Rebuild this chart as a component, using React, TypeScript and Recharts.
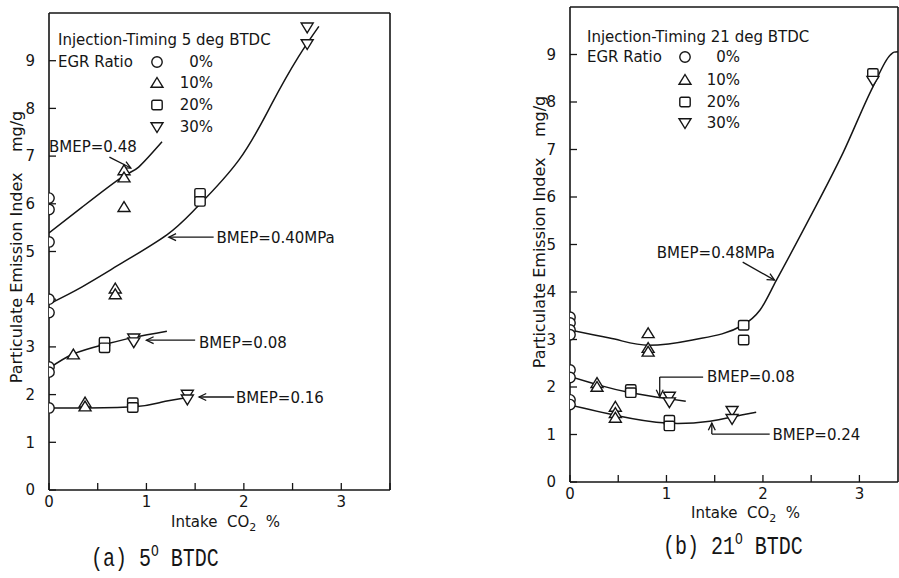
import React from 'react';
import {
  ComposedChart,
  Line,
  Scatter,
  XAxis,
  YAxis,
  ReferenceLine,
  ReferenceDot,
} from 'recharts';

type Pt = { x: number; y: number };

const INK = '#151515';
const SANS = '"DejaVu Sans", sans-serif';

// ---- (a) injection timing 5 deg BTDC : measured points per EGR ratio
const aEgr0: Pt[] = [
  { x: 0, y: 6.12 }, { x: 0, y: 5.88 }, { x: 0, y: 5.2 }, { x: 0, y: 4.0 },
  { x: 0, y: 3.72 }, { x: 0, y: 2.58 }, { x: 0, y: 2.47 }, { x: 0, y: 1.72 },
];
const aEgr10: Pt[] = [
  { x: 0.77, y: 6.7 }, { x: 0.77, y: 6.55 }, { x: 0.77, y: 5.93 }, { x: 0.68, y: 4.22 },
  { x: 0.68, y: 4.1 }, { x: 0.25, y: 2.84 }, { x: 0.37, y: 1.83 }, { x: 0.37, y: 1.75 },
];
const aEgr20: Pt[] = [
  { x: 1.55, y: 6.22 }, { x: 1.55, y: 6.05 }, { x: 0.57, y: 3.1 }, { x: 0.57, y: 2.98 },
  { x: 0.86, y: 1.83 }, { x: 0.86, y: 1.73 },
];
const aEgr30: Pt[] = [
  { x: 2.65, y: 9.7 }, { x: 2.65, y: 9.35 }, { x: 0.87, y: 3.18 }, { x: 0.87, y: 3.1 },
  { x: 1.42, y: 2.0 }, { x: 1.42, y: 1.9 },
];

// fitted curves per BMEP
const aBmep048: Pt[] = [
  { x: 0, y: 5.39 }, { x: 0.34, y: 5.93 }, { x: 0.75, y: 6.56 }, { x: 0.92, y: 6.77 }, { x: 1.16, y: 7.3 },
];
const aBmep040: Pt[] = [
  { x: 0, y: 3.9 }, { x: 0.34, y: 4.26 }, { x: 0.75, y: 4.76 }, { x: 1.21, y: 5.35 },
  { x: 1.51, y: 5.91 }, { x: 1.95, y: 6.92 }, { x: 2.29, y: 8.11 },
  { x: 2.56, y: 9.08 }, { x: 2.77, y: 9.72 },
];
const aBmep008: Pt[] = [
  { x: 0, y: 2.55 }, { x: 0.25, y: 2.85 }, { x: 0.57, y: 3.05 }, { x: 0.87, y: 3.2 }, { x: 1.21, y: 3.33 },
];
const aBmep016: Pt[] = [
  { x: 0, y: 1.72 }, { x: 0.4, y: 1.72 }, { x: 0.9, y: 1.75 }, { x: 1.15, y: 1.84 }, { x: 1.42, y: 1.94 },
];

// ---- (b) injection timing 21 deg BTDC
const bEgr0: Pt[] = [
  { x: 0, y: 3.47 }, { x: 0, y: 3.35 }, { x: 0, y: 3.2 }, { x: 0, y: 3.1 },
  { x: 0, y: 2.36 }, { x: 0, y: 2.2 }, { x: 0, y: 1.73 }, { x: 0, y: 1.63 },
];
const bEgr10: Pt[] = [
  { x: 0.81, y: 3.13 }, { x: 0.81, y: 2.82 }, { x: 0.81, y: 2.74 }, { x: 0.28, y: 2.08 },
  { x: 0.28, y: 2.0 }, { x: 0.47, y: 1.58 }, { x: 0.47, y: 1.45 }, { x: 0.47, y: 1.35 },
];
const bEgr20: Pt[] = [
  { x: 1.8, y: 3.3 }, { x: 1.8, y: 2.99 }, { x: 3.14, y: 8.6 }, { x: 0.63, y: 1.95 },
  { x: 0.63, y: 1.88 }, { x: 1.03, y: 1.3 }, { x: 1.03, y: 1.18 },
];
const bEgr30: Pt[] = [
  { x: 3.14, y: 8.45 }, { x: 1.03, y: 1.8 }, { x: 1.03, y: 1.68 }, { x: 1.68, y: 1.5 }, { x: 1.68, y: 1.33 },
];

const bBmep048: Pt[] = [
  { x: 0, y: 3.2 }, { x: 0.41, y: 3.03 }, { x: 0.81, y: 2.88 }, { x: 1.27, y: 2.99 },
  { x: 1.79, y: 3.3 }, { x: 1.97, y: 3.62 }, { x: 2.14, y: 4.25 }, { x: 2.49, y: 5.58 },
  { x: 2.83, y: 6.93 }, { x: 3.14, y: 8.32 }, { x: 3.32, y: 8.99 }, { x: 3.36, y: 9.05 }, { x: 3.4, y: 9.06 },
];
const bBmep008: Pt[] = [
  { x: 0, y: 2.22 }, { x: 0.28, y: 2.05 }, { x: 0.63, y: 1.88 }, { x: 1.03, y: 1.75 }, { x: 1.2, y: 1.7 },
];
const bBmep024: Pt[] = [
  { x: 0, y: 1.62 }, { x: 0.48, y: 1.4 }, { x: 1.0, y: 1.24 }, { x: 1.45, y: 1.28 },
  { x: 1.68, y: 1.37 }, { x: 1.93, y: 1.47 },
];

const yTicks = [0, 1, 2, 3, 4, 5, 6, 7, 8, 9];
const frameTicks = [1, 2, 3, 4, 5, 6, 7, 8, 9];
const aXTicks = [0, 0.5, 1, 1.5, 2, 2.5, 3, 3.5];
const bXTicks = [0, 0.5, 1, 1.5, 2, 2.5, 3];

type Note = { text: string; x: number; y: number };
type Lead = { from: Pt; to: Pt; head: boolean };

const aNotes: Note[] = [
  { text: 'BMEP=0.48', x: 0, y: 7.2 },
  { text: 'BMEP=0.40MPa', x: 1.72, y: 5.3 },
  { text: 'BMEP=0.08', x: 1.54, y: 3.08 },
  { text: 'BMEP=0.16', x: 1.92, y: 1.93 },
];
const aLeads: Lead[] = [
  { from: { x: 0.62, y: 6.98 }, to: { x: 0.84, y: 6.75 }, head: true },
  { from: { x: 1.69, y: 5.3 }, to: { x: 1.23, y: 5.3 }, head: true },
  { from: { x: 1.5, y: 3.14 }, to: { x: 1.0, y: 3.14 }, head: true },
  { from: { x: 1.9, y: 1.95 }, to: { x: 1.54, y: 1.95 }, head: true },
];
const bNotes: Note[] = [
  { text: 'BMEP=0.48MPa', x: 0.9, y: 4.82 },
  { text: 'BMEP=0.08', x: 1.42, y: 2.21 },
  { text: 'BMEP=0.24', x: 2.1, y: 0.99 },
];
const bLeads: Lead[] = [
  { from: { x: 1.79, y: 4.63 }, to: { x: 2.12, y: 4.25 }, head: true },
  { from: { x: 1.38, y: 2.21 }, to: { x: 0.93, y: 2.21 }, head: false },
  { from: { x: 0.93, y: 2.21 }, to: { x: 0.93, y: 1.79 }, head: true },
  { from: { x: 2.07, y: 1.01 }, to: { x: 1.47, y: 1.01 }, head: false },
  { from: { x: 1.47, y: 1.01 }, to: { x: 1.47, y: 1.24 }, head: true },
];

const Mark = ({ kind, cx, cy }: { kind: string; cx: number; cy: number }) => {
  const s = { fill: '#fff', stroke: INK, strokeWidth: 1.4 };
  if (kind === 'circle') return <circle cx={cx} cy={cy} r={5.2} {...s} />;
  if (kind === 'square') return <rect x={cx - 5.2} y={cy - 4.7} width={10.4} height={9.4} rx={1.5} {...s} />;
  if (kind === 'up')
    return <polygon points={`${cx},${cy - 5.5} ${cx + 6},${cy + 4.3} ${cx - 6},${cy + 4.3}`} {...s} />;
  return <polygon points={`${cx - 6},${cy - 4.3} ${cx + 6},${cy - 4.3} ${cx},${cy + 5.5}`} {...s} />;
};

const shapeOf = (kind: string) => (p: any) => <Mark kind={kind} cx={p.cx} cy={p.cy} />;

const leadShape = (head: boolean) => (p: any) => {
  const { x1, y1, x2, y2 } = p;
  const a = Math.atan2(y2 - y1, x2 - x1);
  const L = 8;
  const w = 0.45;
  const h1 = `${x2 - L * Math.cos(a - w)},${y2 - L * Math.sin(a - w)}`;
  const h2 = `${x2 - L * Math.cos(a + w)},${y2 - L * Math.sin(a + w)}`;
  return (
    <g>
      <line x1={x1} y1={y1} x2={x2} y2={y2} stroke={INK} strokeWidth={1.3} />
      {head && <polyline points={`${h1} ${x2},${y2} ${h2}`} fill="none" stroke={INK} strokeWidth={1.3} />}
    </g>
  );
};

const tickStyle = { fill: INK, fontSize: 15, fontFamily: SANS };
const axisStroke = { stroke: INK, strokeWidth: 1.6 };

type Curve = { pts: Pt[]; kind: 'natural' | 'monotone' };

type PanelProps = {
  left: number;
  width: number;
  margin: { top: number; right: number; bottom: number; left: number };
  xMax: number;
  xTicks: number[];
  topTicks: number[];
  curves: Curve[];
  egr: Pt[][];
  notes: Note[];
  leads: Lead[];
};

const kinds = ['circle', 'up', 'square', 'down'];

const Panel = ({ left, width, margin, xMax, xTicks, topTicks, curves, egr, notes, leads }: PanelProps) => (
  <div style={{ position: 'absolute', left, top: 0 }}>
    <ComposedChart width={width} height={578} margin={margin}>
      <XAxis
        type="number"
        dataKey="x"
        domain={[0, xMax]}
        allowDataOverflow
        ticks={xTicks}
        interval={0}
        tickFormatter={(v: number) => (Number.isInteger(v) ? String(v) : '')}
        tickSize={-7}
        tickMargin={13}
        height={30}
        axisLine={axisStroke}
        tickLine={{ stroke: INK, strokeWidth: 1.3 }}
        tick={tickStyle}
      />
      <XAxis
        xAxisId="t"
        orientation="top"
        type="number"
        dataKey="x"
        domain={[0, xMax]}
        allowDataOverflow
        ticks={topTicks}
        interval={0}
        tick={false}
        tickSize={-7}
        height={1}
        axisLine={axisStroke}
        tickLine={{ stroke: INK, strokeWidth: 1.3 }}
      />
      <YAxis
        type="number"
        domain={[0, 10]}
        allowDataOverflow
        ticks={yTicks}
        interval={0}
        tickSize={-7}
        tickMargin={21}
        width={30}
        axisLine={axisStroke}
        tickLine={{ stroke: INK, strokeWidth: 1.3 }}
        tick={tickStyle}
      />
      <YAxis
        yAxisId="r"
        orientation="right"
        type="number"
        domain={[0, 10]}
        allowDataOverflow
        ticks={frameTicks}
        interval={0}
        tick={false}
        tickSize={-7}
        width={1}
        axisLine={axisStroke}
        tickLine={{ stroke: INK, strokeWidth: 1.3 }}
      />
      {curves.map((c, i) => (
        <Line
          key={'c' + i}
          data={c.pts}
          dataKey="y"
          type={c.kind}
          stroke={INK}
          strokeWidth={1.5}
          dot={false}
          activeDot={false}
          isAnimationActive={false}
        />
      ))}
      {leads.map((l, i) => (
        <ReferenceLine key={'l' + i} segment={[l.from, l.to]} shape={leadShape(l.head)} ifOverflow="visible" />
      ))}
      {egr.map((d, i) => (
        <Scatter key={'s' + i} data={d} dataKey="y" shape={shapeOf(kinds[i])} isAnimationActive={false} />
      ))}
      {notes.map((n, i) => (
        <ReferenceDot
          key={'n' + i}
          x={n.x}
          y={n.y}
          r={0}
          fill="none"
          stroke="none"
          ifOverflow="visible"
          label={{ value: n.text, position: 'right', offset: 0, fill: INK, fontSize: 15, fontFamily: SANS }}
        />
      ))}
    </ComposedChart>
  </div>
);

const T = ({ x, y, children, align = 'left', size = 15 }: any) => (
  <div
    style={{
      position: 'absolute',
      left: align === 'left' ? x : undefined,
      right: align === 'right' ? 899 - x : undefined,
      top: y - 9,
      lineHeight: '18px',
      fontSize: size,
      fontFamily: SANS,
      color: INK,
      whiteSpace: 'nowrap',
    }}
  >
    {children}
  </div>
);

const LegendMark = ({ kind, cx, cy }: { kind: string; cx: number; cy: number }) => (
  <svg width={16} height={16} style={{ position: 'absolute', left: cx - 8, top: cy - 8 }}>
    <Mark kind={kind} cx={8} cy={8} />
  </svg>
);

const egrLabels = ['0%', '10%', '20%', '30%'];

const LegendBlock = ({ x, y0, rows, mx, rx, timing }: any) => (
  <>
    <T x={x} y={y0}>{timing}</T>
    <T x={x} y={rows[0]}>EGR Ratio</T>
    {rows.map((cy: number, i: number) => (
      <React.Fragment key={i}>
        <LegendMark kind={kinds[i]} cx={mx} cy={cy} />
        <T x={rx} y={cy} align="right">{egrLabels[i]}</T>
      </React.Fragment>
    ))}
  </>
);

const YTitle = ({ x, y }: { x: number; y: number }) => (
  <div
    style={{
      position: 'absolute',
      left: x,
      top: y,
      transform: 'translate(-50%, -50%) rotate(-90deg)',
      fontSize: 16,
      lineHeight: '18px',
      fontFamily: SANS,
      color: INK,
      whiteSpace: 'nowrap',
    }}
  >
    Particulate Emission Index{'\u00a0\u00a0\u00a0\u00a0'}mg/g
  </div>
);

const Caption = ({ x, y, children }: any) => (
  <div
    style={{
      position: 'absolute',
      left: x,
      top: y - 10,
      lineHeight: '20px',
      fontSize: 20,
      fontFamily: '"Liberation Mono", monospace',
      color: INK,
      whiteSpace: 'nowrap',
      transform: 'scaleY(1.3)',
    }}
  >
    {children}
  </div>
);

const XTitle = () => (
  <>
    Intake{'\u00a0\u00a0'}CO<sub style={{ fontSize: 11, lineHeight: 0 }}>2</sub>{'\u00a0\u00a0'}%
  </>
);

const App = () => (
  <div
    style={{
      position: 'absolute',
      left: 0,
      top: 0,
      width: 899,
      height: 578,
      overflow: 'hidden',
      background: '#fff',
    }}
  >
    <Panel
      left={0}
      width={420}
      margin={{ top: 12, right: 29, bottom: 58, left: 19 }}
      xMax={3.5}
      xTicks={aXTicks}
      topTicks={[1, 2, 3]}
      curves={[
        { pts: aBmep048, kind: 'natural' },
        { pts: aBmep040, kind: 'natural' },
        { pts: aBmep008, kind: 'natural' },
        { pts: aBmep016, kind: 'natural' },
      ]}
      egr={[aEgr0, aEgr10, aEgr20, aEgr30]}
      notes={aNotes}
      leads={aLeads}
    />
    <Panel
      left={450}
      width={449}
      margin={{ top: 6, right: 0, bottom: 66, left: 90 }}
      xMax={3.4}
      xTicks={bXTicks}
      topTicks={[0.5, 1, 1.5, 2, 2.5, 3]}
      curves={[
        { pts: bBmep048, kind: 'monotone' },
        { pts: bBmep008, kind: 'natural' },
        { pts: bBmep024, kind: 'natural' },
      ]}
      egr={[bEgr0, bEgr10, bEgr20, bEgr30]}
      notes={bNotes}
      leads={bLeads}
    />

    <LegendBlock x={58} y0={40} rows={[62, 83, 105, 127]} mx={157} rx={213} timing="Injection-Timing 5 deg BTDC" />
    <LegendBlock x={587} y0={37} rows={[57, 80, 102, 123]} mx={685} rx={740} timing="Injection-Timing 21 deg BTDC" />

    <YTitle x={17} y={247} />
    <YTitle x={540} y={232} />

    <T x={171} y={522}><XTitle /></T>
    <T x={691} y={513}><XTitle /></T>

    <Caption x={91} y={559}>(a) 5<sup style={{ fontSize: 13, lineHeight: 0 }}>O</sup> BTDC</Caption>
    <Caption x={663} y={547}>(b) 21<sup style={{ fontSize: 13, lineHeight: 0 }}>O</sup> BTDC</Caption>
  </div>
);

export default App;
